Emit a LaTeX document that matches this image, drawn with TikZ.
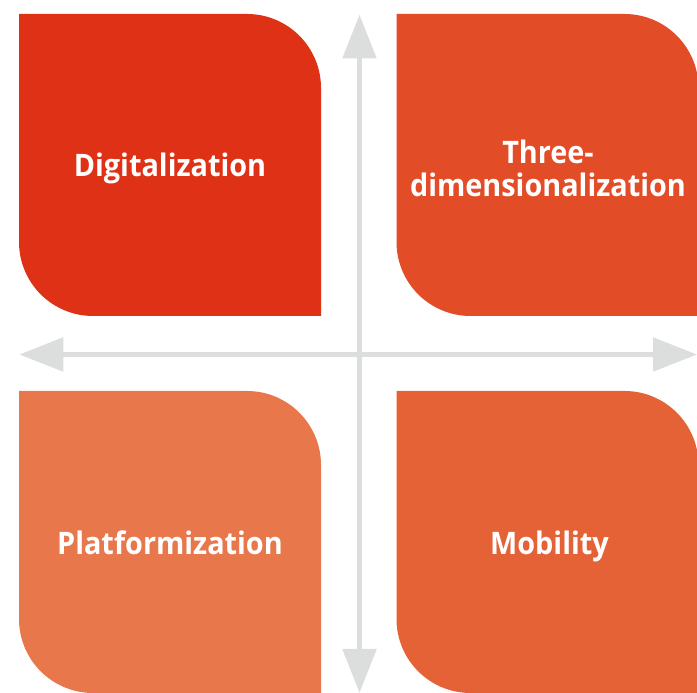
\documentclass[tikz,border=0pt]{standalone}
\usepackage{fontspec}
\setmainfont{Open Sans}[RawFeature=-liga, FakeStretch=0.93]
\usetikzlibrary{arrows.meta}
\definecolor{cTL}{HTML}{DE3116}
\definecolor{cTR}{HTML}{E24C27}
\definecolor{cBL}{HTML}{E8784C}
\definecolor{cBR}{HTML}{E56236}
\definecolor{axisgray}{HTML}{DCDDDD}
\tikzset{
  lbl/.style={text=white, font=\fontsize{31}{33}\selectfont\bfseries, align=center, inner sep=0pt},
  axis/.style={draw=axisgray, line width=5.5pt, {Triangle[length=44pt,width=33pt]}-{Triangle[length=44pt,width=33pt]}}
}
\newcommand{\leafbox}[3]{% #1 x0, #2 y0 (bottom), #3 colour ; size 302 x 302, radius 74
  \fill[#3] (#1,#2+302) -- (#1+302-74,#2+302) arc[start angle=90,end angle=0,radius=74]
    -- (#1+302,#2) -- (#1+74,#2) arc[start angle=270,end angle=180,radius=74] -- cycle;}
\begin{document}
\begin{tikzpicture}[x=1pt,y=1pt]
\useasboundingbox (0,0) rectangle (697,693);
\leafbox{19}{377}{cTL}
\leafbox{396.5}{377}{cTR}
\leafbox{19}{0}{cBL}
\leafbox{396.5}{0}{cBR}
\coordinate (top) at (359.5,678.5);
\coordinate (bottom) at (359.5,0);
\coordinate (left) at (19.3,338.5);
\coordinate (right) at (697,338.5);
\draw[axis] (bottom) -- (top);
\draw[axis] (left) -- (right);
\node[lbl, anchor=base] (dig) at (170,516) {Digitalization};
\node[lbl] (three) at (548,525) {Three-\\dimensionalization};
\node[lbl, anchor=base] (plat) at (170,138) {Platformization};
\node[lbl, anchor=base] (mob) at (549.5,138) {Mobility};
\end{tikzpicture}
\end{document}
